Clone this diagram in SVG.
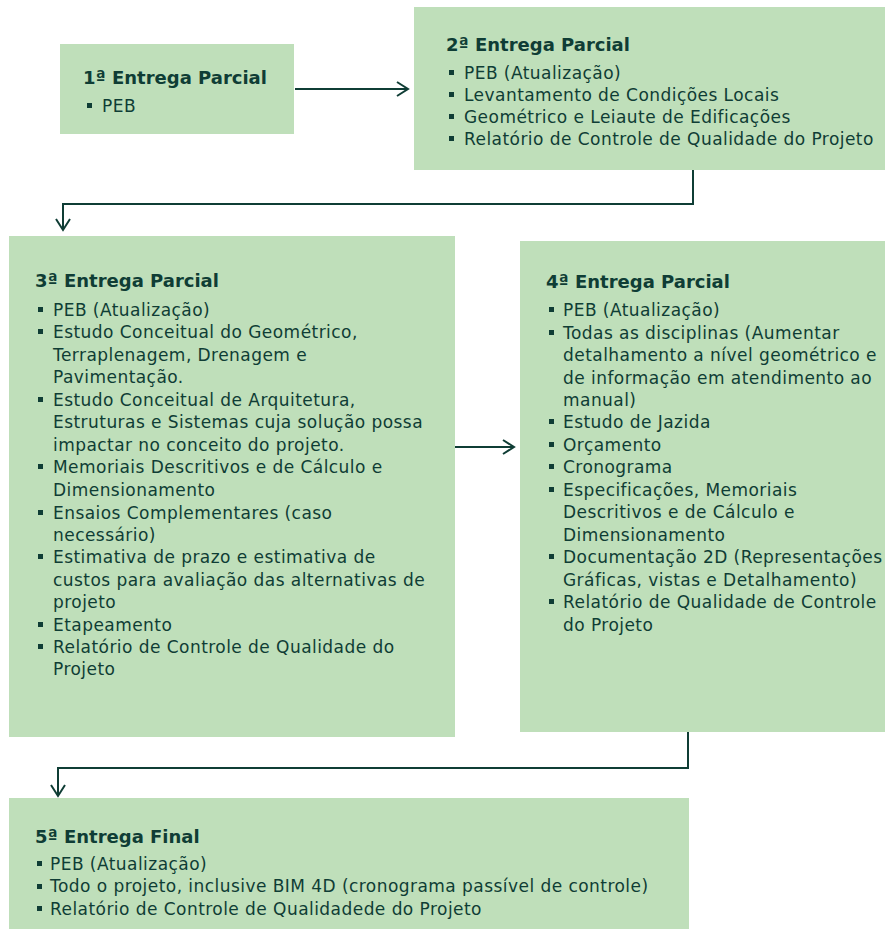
<svg xmlns="http://www.w3.org/2000/svg" xmlns:xlink="http://www.w3.org/1999/xlink" width="887" height="929" viewBox="0 0 887 929">
<style>
.box{fill:#bfdfba}
.t{font-family:"DejaVu Sans","Open Sans",sans-serif;font-weight:700;font-size:18px;fill:#0f3d35}
.b{font-family:"DejaVu Sans","Open Sans",sans-serif;font-size:17px;letter-spacing:0.45px;fill:#0f3d35}
.c{fill:none;stroke:#0f3d35;stroke-width:2}
.bl{fill:#0f3d35}
</style>
<defs>
<marker id="ah" markerWidth="16" markerHeight="16" refX="13" refY="8" orient="auto" markerUnits="userSpaceOnUse">
<path d="M2,1 L13,8 L2,15" fill="none" stroke="#0f3d35" stroke-width="2"/>
</marker>
<rect id="sq" width="5" height="5"/>
</defs>
<rect width="887" height="929" fill="#ffffff"/>

<g id="connectors">
<path class="c" d="M295,89 H408" marker-end="url(#ah)"/>
<path class="c" d="M693,170 V204 H63 V230" marker-end="url(#ah)"/>
<path class="c" d="M455,447 H514" marker-end="url(#ah)"/>
<path class="c" d="M688,732 V768 H58 V796" marker-end="url(#ah)"/>
</g>

<g id="n1">
<rect class="box" x="60" y="44" width="234" height="90"/>
<text class="t" x="83" y="84">1ª Entrega Parcial</text>
<use xlink:href="#sq" class="bl" x="87" y="103"/>
<text class="b" x="102" y="112">PEB</text>
</g>

<g id="n2">
<rect class="box" x="414" y="7" width="471" height="163"/>
<text class="t" x="446" y="51">2ª Entrega Parcial</text>
<g class="bl">
<use xlink:href="#sq" x="449" y="70"/>
<use xlink:href="#sq" x="449" y="92"/>
<use xlink:href="#sq" x="449" y="114"/>
<use xlink:href="#sq" x="449" y="136"/>
</g>
<text class="b">
<tspan x="464" y="79">PEB (Atualização)</tspan>
<tspan x="464" y="101">Levantamento de Condições Locais</tspan>
<tspan x="464" y="123">Geométrico e Leiaute de Edificações</tspan>
<tspan x="464" y="145">Relatório de Controle de Qualidade do Projeto</tspan>
</text>
</g>

<g id="n3">
<rect class="box" x="9" y="236" width="446" height="501"/>
<text class="t" x="35" y="287">3ª Entrega Parcial</text>
<g class="bl">
<use xlink:href="#sq" x="38" y="307"/>
<use xlink:href="#sq" x="38" y="329"/>
<use xlink:href="#sq" x="38" y="397"/>
<use xlink:href="#sq" x="38" y="464"/>
<use xlink:href="#sq" x="38" y="510"/>
<use xlink:href="#sq" x="38" y="554"/>
<use xlink:href="#sq" x="38" y="622"/>
<use xlink:href="#sq" x="38" y="644"/>
</g>
<text class="b">
<tspan x="53" y="316">PEB (Atualização)</tspan>
<tspan x="53" y="338">Estudo Conceitual do Geométrico,</tspan>
<tspan x="53" y="361">Terraplenagem, Drenagem e</tspan>
<tspan x="53" y="383">Pavimentação.</tspan>
<tspan x="53" y="406">Estudo Conceitual de Arquitetura,</tspan>
<tspan x="53" y="428">Estruturas e Sistemas cuja solução possa</tspan>
<tspan x="53" y="451">impactar no conceito do projeto.</tspan>
<tspan x="53" y="473">Memoriais Descritivos e de  Cálculo e</tspan>
<tspan x="53" y="496">Dimensionamento</tspan>
<tspan x="53" y="519">Ensaios Complementares (caso</tspan>
<tspan x="53" y="541">necessário)</tspan>
<tspan x="53" y="563">Estimativa de prazo e estimativa de</tspan>
<tspan x="53" y="586">custos para avaliação das alternativas de</tspan>
<tspan x="53" y="608">projeto</tspan>
<tspan x="53" y="631">Etapeamento</tspan>
<tspan x="53" y="653">Relatório de Controle de Qualidade do</tspan>
<tspan x="53" y="675">Projeto</tspan>
</text>
</g>

<g id="n4">
<rect class="box" x="520" y="241" width="365" height="491"/>
<text class="t" x="546" y="288">4ª Entrega Parcial</text>
<g class="bl">
<use xlink:href="#sq" x="549" y="307"/>
<use xlink:href="#sq" x="549" y="330"/>
<use xlink:href="#sq" x="549" y="419"/>
<use xlink:href="#sq" x="549" y="442"/>
<use xlink:href="#sq" x="549" y="464"/>
<use xlink:href="#sq" x="549" y="487"/>
<use xlink:href="#sq" x="549" y="554"/>
<use xlink:href="#sq" x="549" y="599"/>
</g>
<text class="b">
<tspan x="563" y="316">PEB (Atualização)</tspan>
<tspan x="563" y="339">Todas as disciplinas (Aumentar</tspan>
<tspan x="563" y="361">detalhamento a nível geométrico e</tspan>
<tspan x="563" y="384">de informação em atendimento ao</tspan>
<tspan x="563" y="406">manual)</tspan>
<tspan x="563" y="428">Estudo de Jazida</tspan>
<tspan x="563" y="451">Orçamento</tspan>
<tspan x="563" y="473">Cronograma</tspan>
<tspan x="563" y="496">Especificações, Memoriais</tspan>
<tspan x="563" y="518">Descritivos e de  Cálculo e</tspan>
<tspan x="563" y="541">Dimensionamento</tspan>
<tspan x="563" y="563">Documentação 2D (Representações</tspan>
<tspan x="563" y="586">Gráficas, vistas e Detalhamento)</tspan>
<tspan x="563" y="608">Relatório de Qualidade de Controle</tspan>
<tspan x="563" y="631">do Projeto</tspan>
</text>
</g>

<g id="n5">
<rect class="box" x="9" y="798" width="680" height="131"/>
<text class="t" x="35" y="843">5ª Entrega Final</text>
<g class="bl">
<use xlink:href="#sq" x="37" y="861"/>
<use xlink:href="#sq" x="37" y="884"/>
<use xlink:href="#sq" x="37" y="906"/>
</g>
<text class="b">
<tspan x="50" y="870">PEB (Atualização)</tspan>
<tspan x="50" y="892">Todo o projeto, inclusive BIM 4D (cronograma passível de controle)</tspan>
<tspan x="50" y="915">Relatório de Controle de Qualidadede do Projeto</tspan>
</text>
</g>
</svg>
